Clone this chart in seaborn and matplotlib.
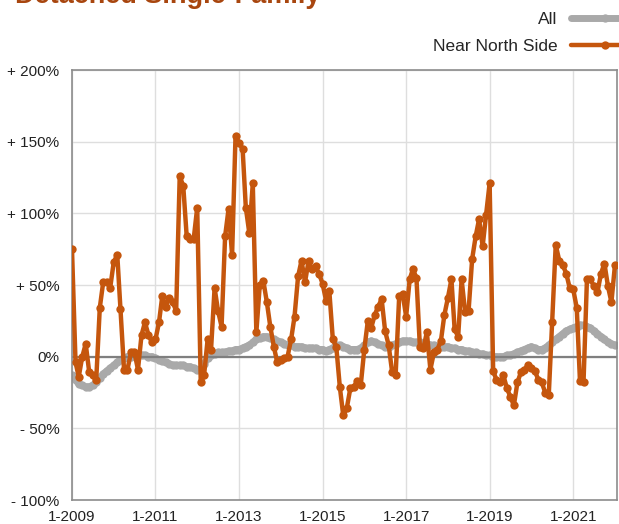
"""
Detached Single-Family: year-over-year change, Near North Side vs All
"""

import matplotlib
matplotlib.use('Agg')
import matplotlib.pyplot as plt
import seaborn as sns
import numpy as np
import pandas as pd

# monthly values, Jan 2009 .. Jan 2022 (%)
near_north = [
    75, -4, -14, 0, 9, -11, -13, -16, 34, 52,
    52, 48, 66, 71, 33, -9, -9, 3, 3, -9,
    15, 24, 15, 10, 12, 24, 42, 35, 41, 38,
    32, 126, 119, 84, 82, 82, 104, -18, -13, 12,
    5, 48, 32, 21, 84, 103, 71, 154, 149, 145,
    104, 86, 121, 17, 50, 53, 38, 21, 7, -4,
    -2, -1, 0, 12, 28, 56, 67, 52, 67, 61,
    63, 58, 51, 39, 46, 12, 7, -21, -41, -36,
    -22, -21, -17, -20, 5, 25, 20, 29, 35, 40,
    18, 8, -11, -13, 42, 44, 28, 54, 61, 55,
    7, 6, 17, -9, 3, 5, 11, 29, 41, 54,
    19, 14, 54, 31, 32, 68, 84, 96, 77, 99,
    121, -10, -16, -18, -13, -22, -28, -34, -18, -11,
    -9, -6, -8, -10, -16, -18, -25, -27, 24, 78,
    67, 64, 58, 48, 47, 34, -17, -18, 54, 54,
    49, 45, 58, 65, 49, 38, 64,
]
all_areas = [
    -13, -16, -19, -20, -21, -21, -20, -18, -15, -12,
    -10, -8, -6, -4, -2, -1, 0, 0, 1, 1,
    1, 1, 0, 0, -1, -2, -3, -4, -5, -6,
    -6, -6, -6, -7, -7, -8, -9, -9, -5, -1,
    1, 2, 3, 3, 3, 4, 4, 5, 5, 6,
    7, 8, 10, 12, 13, 14, 14, 13, 12, 11,
    10, 9, 8, 8, 7, 7, 7, 6, 6, 6,
    6, 5, 5, 4, 5, 6, 8, 8, 7, 6,
    5, 5, 5, 6, 8, 10, 11, 10, 9, 8,
    7, 7, 8, 9, 10, 11, 11, 11, 10, 10,
    10, 9, 9, 8, 8, 7, 7, 7, 7, 6,
    6, 5, 5, 4, 4, 3, 3, 2, 2, 1,
    1, 0, 0, 0, 0, 1, 1, 2, 3, 4,
    5, 6, 7, 6, 5, 5, 6, 8, 10, 12,
    14, 16, 18, 19, 20, 21, 22, 22, 21, 20,
    18, 16, 14, 12, 10, 9, 8,
]
y_ticks = [-100, -50, 0, 50, 100, 150, 200]
y_labels = ['- 100%', '- 50%', '0%', '+ 50%', '+ 100%', '+ 150%', '+ 200%']
x_years = [2009, 2011, 2013, 2015, 2017, 2019, 2021]

months = pd.date_range('2009-01-01', periods=len(near_north), freq='MS')
df = pd.DataFrame({'month': months, 'Near North Side': near_north, 'All': all_areas})

sns.set_style('white')
plt.rcParams['font.family'] = ['Liberation Sans', 'DejaVu Sans']

ORANGE = '#c5560d'
GRAY = '#a9a9a9'

fig = plt.figure(figsize=(6.19, 5.24), dpi=100)
ax = fig.add_axes([0.1163, 0.0458, 0.8805, 0.8206])

sns.lineplot(data=df, x='month', y='All', ax=ax, color=GRAY, lw=5,
             marker='o', markersize=6, markeredgewidth=0, label='All', zorder=2)
ax.axhline(0, color='#7f7f7f', lw=1.6, zorder=2.5)
sns.lineplot(data=df, x='month', y='Near North Side', ax=ax, color=ORANGE, lw=3.2,
             marker='o', markersize=6, markeredgewidth=0, label='Near North Side', zorder=3)

ax.set_ylim(-100, 200)
ax.set_xlim(months[0], months[-1] + pd.Timedelta(days=18))
ax.set_yticks(y_ticks)
ax.set_yticklabels(y_labels)
ax.set_xticks([pd.Timestamp(f'{y}-01-01') for y in x_years])
ax.set_xticklabels([f'1-{y}' for y in x_years])
ax.set_xlabel('')
ax.set_ylabel('')

ax.grid(True, color='#dedede', lw=1)
ax.set_axisbelow(True)
for side in ['left', 'bottom', 'top', 'right']:
    ax.spines[side].set_color('#8c8c8c')
    ax.spines[side].set_linewidth(1.2)
ax.tick_params(axis='y', length=4, color='#8c8c8c', labelsize=11, labelcolor='#222222', pad=5)
ax.tick_params(axis='x', length=0, labelsize=11, labelcolor='#222222', pad=7)

ax.legend(loc='upper right', bbox_to_anchor=(1.034, 0.978), bbox_transform=fig.transFigure,
          markerfirst=False, frameon=False, fontsize=12.5, handlelength=4.0,
          handletextpad=0.75, labelspacing=0.7, borderpad=0, borderaxespad=0)

fig.text(0.024, 0.995, 'Detached Single-Family', fontsize=19.5, fontweight='bold',
         color='#a8460f', ha='left', va='baseline')

plt.savefig('out.png', dpi=100)
